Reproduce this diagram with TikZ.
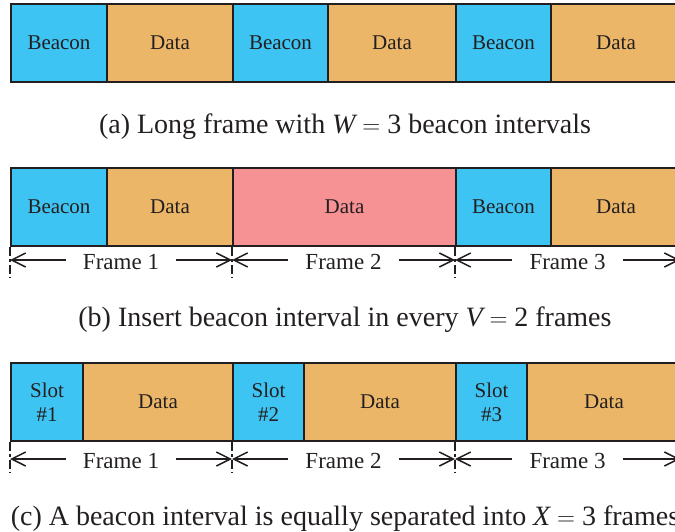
\documentclass[tikz,border=0pt]{standalone}
\usepackage{fontspec}
\setmainfont{Liberation Serif}
\usetikzlibrary{arrows.meta}
\definecolor{bl}{RGB}{62,196,242}
\definecolor{og}{RGB}{236,182,104}
\definecolor{pk}{RGB}{246,145,148}
\definecolor{edge}{RGB}{35,31,32}
\tikzset{
  blk/.style={draw=edge, line width=2pt, minimum height=78pt, inner sep=0pt,
    anchor=north west, font=\fontsize{21}{22}\selectfont, text=edge, align=center},
  flabel/.style={font=\fontsize{23}{24}\selectfont, text=edge, inner xsep=17pt, inner ysep=0pt},
  arr/.style={line width=1.5pt, draw=edge, -{Straight Barb[length=14pt,width=14pt,line width=1.5pt]}},
  divl/.style={line width=2.2pt, draw=edge, dash pattern=on 9pt off 3pt on 3pt off 3pt},
  captext/.style={font=\fontsize{28}{30}\selectfont, text=edge}
}
\begin{document}
\begin{tikzpicture}[x=1pt,y=-1pt]
\useasboundingbox (0,0) rectangle (675,532);
\clip (0,0) rectangle (675,532);
% Row (a)
\node[blk, fill=bl, minimum width=96pt]  (a1) at (10,3)  {Beacon};
\node[blk, fill=og, minimum width=126pt] (a2) at (106,3) {Data};
\node[blk, fill=bl, minimum width=95pt]  (a3) at (232,3) {Beacon};
\node[blk, fill=og, minimum width=128pt] (a4) at (327,3) {Data};
\node[blk, fill=bl, minimum width=95pt]  (a5) at (455,3) {Beacon};
\node[blk, fill=og, minimum width=130pt] (a6) at (550,3) {Data};
\node[captext] (capa) at (345,127) {(a) Long frame with $\textit{W}=\textrm{3}$ beacon intervals};
% Row (b)
\node[blk, fill=bl, minimum width=96pt]  (b1) at (10,167)  {Beacon};
\node[blk, fill=og, minimum width=126pt] (b2) at (106,167) {Data};
\node[blk, fill=pk, minimum width=223pt] (b3) at (232,167) {Data};
\node[blk, fill=bl, minimum width=95pt]  (b4) at (455,167) {Beacon};
\node[blk, fill=og, minimum width=130pt] (b5) at (550,167) {Data};
\coordinate (bd0) at (10,260);
\coordinate (bd1) at (232,260);
\coordinate (bd2) at (455,260);
\coordinate (bd3) at (680,260);
\draw[divl] (b1.south west) -- ++(0,31);
\draw[divl] (b3.south west) -- ++(0,31);
\draw[divl] (b4.south west) -- ++(0,31);
\node[flabel] (bf1) at (121,262) {Frame 1};
\node[flabel] (bf2) at (343.5,262) {Frame 2};
\node[flabel] (bf3) at (567.5,262) {Frame 3};
\draw[arr] (bf1.west |- bd0) -- (bd0);
\draw[arr] (bf1.east |- bd0) -- (bd1);
\draw[arr] (bf2.west |- bd0) -- (bd1);
\draw[arr] (bf2.east |- bd0) -- (bd2);
\draw[arr] (bf3.west |- bd0) -- (bd2);
\draw[arr] (bf3.east |- bd0) -- (bd3);
\node[captext] (capb) at (345,320) {(b) Insert beacon interval in every $\textit{V}=\textrm{2}$ frames};
% Row (c)
\node[blk, fill=bl, minimum width=72pt]  (c1) at (10,362)  {Slot\\[2pt]\#1};
\node[blk, fill=og, minimum width=150pt] (c2) at (82,362)  {Data};
\node[blk, fill=bl, minimum width=71pt]  (c3) at (232,362) {Slot\\[2pt]\#2};
\node[blk, fill=og, minimum width=152pt] (c4) at (303,362) {Data};
\node[blk, fill=bl, minimum width=71pt]  (c5) at (455,362) {Slot\\[2pt]\#3};
\node[blk, fill=og, minimum width=154pt] (c6) at (526,362) {Data};
\coordinate (cd0) at (10,459);
\coordinate (cd1) at (232,459);
\coordinate (cd2) at (455,459);
\coordinate (cd3) at (680,459);
\draw[divl] (c1.south west) -- ++(0,31);
\draw[divl] (c3.south west) -- ++(0,31);
\draw[divl] (c5.south west) -- ++(0,31);
\node[flabel] (cf1) at (121,461) {Frame 1};
\node[flabel] (cf2) at (343.5,461) {Frame 2};
\node[flabel] (cf3) at (567.5,461) {Frame 3};
\draw[arr] (cf1.west |- cd0) -- (cd0);
\draw[arr] (cf1.east |- cd0) -- (cd1);
\draw[arr] (cf2.west |- cd0) -- (cd1);
\draw[arr] (cf2.east |- cd0) -- (cd2);
\draw[arr] (cf3.west |- cd0) -- (cd2);
\draw[arr] (cf3.east |- cd0) -- (cd3);
\node[captext] (capc) at (345,519) {(c) A beacon interval is equally separated into $\textit{X}=\textrm{3}$ frames};
\end{tikzpicture}
\end{document}
